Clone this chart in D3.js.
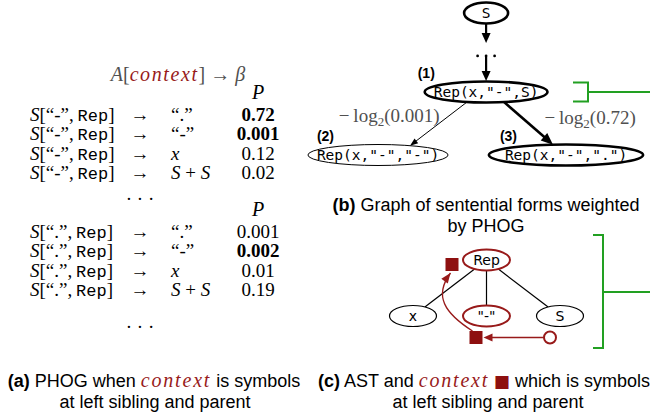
<!DOCTYPE html>
<html>
<head>
<meta charset="utf-8">
<script src="https://cdn.jsdelivr.net/npm/d3@7"></script>
<style>
  body { margin: 0; background: #fff; }
  svg { display: block; }
  text { white-space: pre; }
</style>
</head>
<body>
<div id="chart"></div>
<script>
// (a) PHOG rules
const ruleTargets    = ['“.”', '“-”', 'x', 'S + S']
const leftSiblings   = ['“-”', '“.”']
const probsAfterDash = ['0.72', '0.001', '0.12', '0.02']
const probsAfterDot  = ['0.001', '0.002', '0.01', '0.19']
const boldAfterDash  = [true, true, false, false]
const boldAfterDot   = [false, true, false, false]

// (b) sentential forms
const formNodes = ['S', 'Rep(x,"-",S)', 'Rep(x,"-","-")', 'Rep(x,"-",".")']
const formTags  = ['', '(1)', '(2)', '(3)']
const formCol   = [5.75, 5.75, 0, 10]
const formRow   = [0, 1, 2, 2]
const formHeavy = [true, true, false, true]
const edgeFrom  = [1, 1]
const edgeTo    = [2, 3]
const edgeProbs = ['0.001', '0.72']

// (c) AST
const astNodes   = ['Rep', 'x', '"-"', 'S']
const astCol     = [1, 0, 1, 2]
const astRow     = [0, 1, 1, 1]
const astContext = [true, false, true, false]

const W = 650, H = 416
const serif = '"Liberation Serif", serif'
const sans  = '"Liberation Sans", Arial, sans-serif'
const mono  = '"Liberation Mono", monospace'
const nodeMono = '"DejaVu Sans Mono", monospace'
const red = '#981a1a', green = '#22a022', grey = '#505050'

const svg = d3.select('#chart').append('svg').attr('width', W).attr('height', H)

function rich(sel, x, y, spans, anchor) {
  const t = sel.append('text').attr('x', x).attr('y', y).attr('text-anchor', anchor || 'start')
  spans.forEach(s => {
    const ts = t.append('tspan').text(s.t)
      .attr('font-family', s.f || serif)
      .attr('font-size', s.size || 19)
      .attr('fill', s.c || '#000')
    if (s.i)  ts.attr('font-style', 'italic')
    if (s.b)  ts.attr('font-weight', 'bold')
    if (s.dy) ts.attr('dy', s.dy)
    if (s.ls) ts.attr('letter-spacing', s.ls)
  })
  return t
}

function arrowHead(sel, x2, y2, ang, len, wid, color) {
  const bx = x2 - len * Math.cos(ang), by = y2 - len * Math.sin(ang)
  const nx = Math.sin(ang) * wid / 2, ny = -Math.cos(ang) * wid / 2
  sel.append('path')
    .attr('d', d3.line()([[x2, y2], [bx + nx, by + ny], [bx - nx, by - ny]]) + 'Z')
    .attr('fill', color)
}

function arrow(sel, x1, y1, x2, y2, o) {
  const color = o.color || '#000'
  const ang = Math.atan2(y2 - y1, x2 - x1)
  const cut = o.head * 0.8
  sel.append('line')
    .attr('x1', x1).attr('y1', y1)
    .attr('x2', x2 - cut * Math.cos(ang)).attr('y2', y2 - cut * Math.sin(ang))
    .attr('stroke', color).attr('stroke-width', o.w)
  arrowHead(sel, x2, y2, ang, o.head, o.hw, color)
}

function clip(n, dx, dy) {
  const t = 1 / Math.sqrt((dx / n.rx) ** 2 + (dy / n.ry) ** 2)
  return [n.x + dx * t, n.y + dy * t]
}

//--- (a) table
const tbl = svg.append('g')
const colX = d3.scaleOrdinal().domain(['lhs', 'arrow', 'rhs', 'prob']).range([30, 140, 171, 258])
const rowY = d3.scaleLinear().domain([0, 3]).range([0, 58])
const groupTop = [121, 238]
const groupDots = [4.35, 4.9]

rich(tbl, 178, 81, [
  {t: 'A', i: true, c: grey, size: 20}, {t: '[', c: grey, size: 20},
  {t: 'context', i: true, c: red, size: 20, ls: 1.6},
  {t: ']', c: grey, size: 20}, {t: ' → ', c: grey, size: 20}, {t: 'β', i: true, c: grey, size: 20}
], 'middle')

function targetSpans(tg) {
  if (tg == 'x') return [{t: 'x', i: true}]
  if (tg == 'S + S') return [{t: 'S', i: true}, {t: ' + '}, {t: 'S', i: true}]
  return [{t: tg}]
}

;[[probsAfterDash, boldAfterDash], [probsAfterDot, boldAfterDot]].forEach(([probs, bolds], g) => {
  const y0 = groupTop[g]
  rich(tbl, colX('prob'), y0 + rowY(-1.12), [{t: 'P', i: true, size: 20}], 'middle')
  ruleTargets.forEach((tg, i) => {
    const y = y0 + rowY(i)
    rich(tbl, colX('lhs'), y, [
      {t: 'S', i: true}, {t: '['}, {t: leftSiblings[g]}, {t: ',\u2009'},
      {t: 'Rep', f: mono, size: 17}, {t: ']'}
    ])
    rich(tbl, colX('arrow'), y, [{t: '→'}], 'middle')
    rich(tbl, colX('rhs'), y, targetSpans(tg))
    rich(tbl, colX('prob'), y, [{t: probs[i], b: bolds[i]}], 'middle')
  })
  rich(tbl, colX('arrow'), y0 + rowY(groupDots[g]), [{t: '· · ·'}], 'middle')
})

rich(svg, 154, 387, [
  {t: '(a)', f: sans, b: true, size: 18}, {t: ' PHOG when ', f: sans, size: 18},
  {t: 'context', i: true, c: red, size: 20, ls: 1.8}, {t: ' is symbols', f: sans, size: 18}
], 'middle')
rich(svg, 155, 408, [{t: 'at left sibling and parent', f: sans, size: 18}], 'middle')

//--- (b) graph of sentential forms
const gb = svg.append('g')
const gx = d3.scaleLinear().domain([0, 10]).range([378, 566])
const gy = d3.scaleLinear().domain([0, 1, 2]).range([13, 92, 155])
const tagDx = [0, -7, 9, 11]

const forms = formNodes.map((label, i) => ({label, x: gx(formCol[i]), y: gy(formRow[i]), heavy: formHeavy[i]}))
forms.forEach((n, i) => {
  const ell = gb.append('ellipse')
  const t = gb.append('text').attr('x', n.x).attr('y', n.y + 5)
    .attr('text-anchor', 'middle').attr('font-family', nodeMono).attr('font-size', 14.5).text(n.label)
  n.rx = Math.max(22, t.node().getComputedTextLength() / 2 + (i == 3 ? 16 : 9))
  n.ry = 10.5
  ell.attr('cx', n.x).attr('cy', n.y).attr('rx', n.rx).attr('ry', n.ry)
    .attr('fill', '#fff').attr('stroke', '#000').attr('stroke-width', n.heavy ? 2.6 : 1)
  if (formTags[i]) {
    gb.append('text').attr('x', n.x - n.rx + tagDx[i]).attr('y', n.y - n.ry - 4)
      .attr('font-family', sans).attr('font-weight', 'bold').attr('font-size', 14).text(formTags[i])
  }
})

// S -> ... -> (1)
const sNode = forms[0], r1 = forms[1]
const topY = sNode.y + sNode.ry + 0.5, botY = r1.y - r1.ry - 0.5
const dotY = topY + (botY - topY) * 0.56
arrow(gb, sNode.x, topY, sNode.x, dotY - 13, {w: 2.2, head: 10, hw: 9})
;[-8.5, 0, 8.5].forEach(dx => gb.append('circle').attr('cx', sNode.x + dx).attr('cy', dotY).attr('r', 1.4))
arrow(gb, sNode.x, dotY + 1, sNode.x, botY, {w: 2.2, head: 10, hw: 9})

const edgeFromDx = [-19, 18], edgeToDx = [32, -13]
edgeTo.forEach((to, k) => {
  const a = forms[edgeFrom[k]], b = forms[to]
  const x1 = a.x + edgeFromDx[k], y1 = a.y + a.ry * Math.sqrt(1 - (edgeFromDx[k] / a.rx) ** 2)
  const x2 = b.x + edgeToDx[k], y2 = b.y - b.ry * Math.sqrt(1 - (edgeToDx[k] / b.rx) ** 2)
  arrow(gb, x1, y1, x2, y2, b.heavy ? {w: 2.6, head: 12, hw: 10} : {w: 1, head: 8, hw: 6})
  const mx = (x1 + x2) / 2, my = (y1 + y2) / 2
  const spans = [
    {t: '−\u2009log', c: grey}, {t: '2', size: 13, dy: 4, c: grey},
    {t: '(' + edgeProbs[k] + ')', dy: -4, c: grey}
  ]
  if (k == 0) rich(gb, mx + 1, my - 2, spans, 'end')
  else        rich(gb, mx + 16, my + 1, spans, 'start')
})

// bracket to (1)
const bx0 = 573
gb.append('path')
  .attr('d', `M${bx0},${r1.y - 9.5}H${bx0 + 15}V${r1.y + 9.5}H${bx0}M${bx0 + 15},${r1.y}H${W}`)
  .attr('fill', 'none').attr('stroke', green).attr('stroke-width', 2)

rich(svg, 486, 211, [
  {t: '(b)', f: sans, b: true, size: 18}, {t: ' Graph of sentential forms weighted', f: sans, size: 18}
], 'middle')
rich(svg, 486, 232, [{t: 'by PHOG', f: sans, size: 18}], 'middle')

//--- (c) AST
const gc = svg.append('g')
const cx = d3.scaleLinear().domain([0, 2]).range([413, 560])
const cy = d3.scaleLinear().domain([0, 1]).range([260, 316])
const ast = astNodes.map((label, i) => ({label, x: cx(astCol[i]), y: cy(astRow[i]), ctx: astContext[i]}))

const lineLayer = gc.append('g'), nodeLayer = gc.append('g')
ast.forEach(n => {
  const ell = nodeLayer.append('ellipse')
  const t = nodeLayer.append('text').attr('x', n.x).attr('y', n.y + 5)
    .attr('text-anchor', 'middle').attr('font-family', '"DejaVu Sans", sans-serif').attr('font-size', 14).text(n.label)
  n.rx = Math.max(23.5, t.node().getComputedTextLength() / 2 + 9)
  n.ry = 10.5
  ell.attr('cx', n.x).attr('cy', n.y).attr('rx', n.rx).attr('ry', n.ry)
    .attr('fill', '#fff').attr('stroke', n.ctx ? red : '#000').attr('stroke-width', n.ctx ? 2 : 1.2)
})
ast.slice(1).forEach(c => {
  const p = ast[0]
  const [x1, y1] = clip(p, c.x - p.x, c.y - p.y)
  const [x2, y2] = clip(c, p.x - c.x, p.y - c.y)
  lineLayer.append('line').attr('x1', x1).attr('y1', y1).attr('x2', x2).attr('y2', y2)
    .attr('stroke', '#000').attr('stroke-width', 1.2)
})

const sq = 13
const topSq = {x: ast[0].x - 41, y: ast[0].y - 2}
const botSq = {x: ast[2].x - 17, y: ast[2].y + 15}
const hole  = {x: ast[3].x - 10, y: botSq.y + sq / 2}
;[topSq, botSq].forEach(s => gc.append('rect').attr('x', s.x).attr('y', s.y)
  .attr('width', sq).attr('height', sq).attr('fill', '#8e1010'))
gc.append('circle').attr('cx', hole.x).attr('cy', hole.y).attr('r', 6)
  .attr('fill', '#fff').attr('stroke', red).attr('stroke-width', 2)
arrow(gc, hole.x - 6, hole.y, botSq.x + sq + 1, hole.y, {w: 1.3, head: 9, hw: 8, color: red})

const c0 = [botSq.x + 3, botSq.y], c1 = [botSq.x - 25, botSq.y - 18],
      c2 = [botSq.x - 36, botSq.y - 35], c3 = [topSq.x + 5, topSq.y + sq + 2]
const curve = d3.path()
curve.moveTo(...c0)
curve.bezierCurveTo(...c1, ...c2, ...c3)
gc.append('path').attr('d', curve.toString()).attr('fill', 'none').attr('stroke', red).attr('stroke-width', 1.3)
arrowHead(gc, c3[0], c3[1], Math.atan2(c3[1] - c2[1], c3[0] - c2[0]), 10, 8, red)

// bracket to (c)
const kx = 603, kTop = cy(0) - 25, kBot = cy(1) + 32, kMid = (cy(0) + cy(1)) / 2 + 4
gc.append('path')
  .attr('d', `M${kx - 10},${kTop}H${kx}V${kBot}H${kx - 10}M${kx},${kMid}H${W}`)
  .attr('fill', 'none').attr('stroke', green).attr('stroke-width', 2)

rich(svg, 484, 387, [
  {t: '(c)', f: sans, b: true, size: 18}, {t: ' AST and ', f: sans, size: 18},
  {t: 'context', i: true, c: red, size: 20, ls: 1.8}, {t: ' '},
  {t: '■', f: '"DejaVu Sans", sans-serif', size: 17, c: '#8e1010'},
  {t: ' which is symbols', f: sans, size: 18}
], 'middle')
rich(svg, 488, 408, [{t: 'at left sibling and parent', f: sans, size: 18}], 'middle')
</script>
</body>
</html>
